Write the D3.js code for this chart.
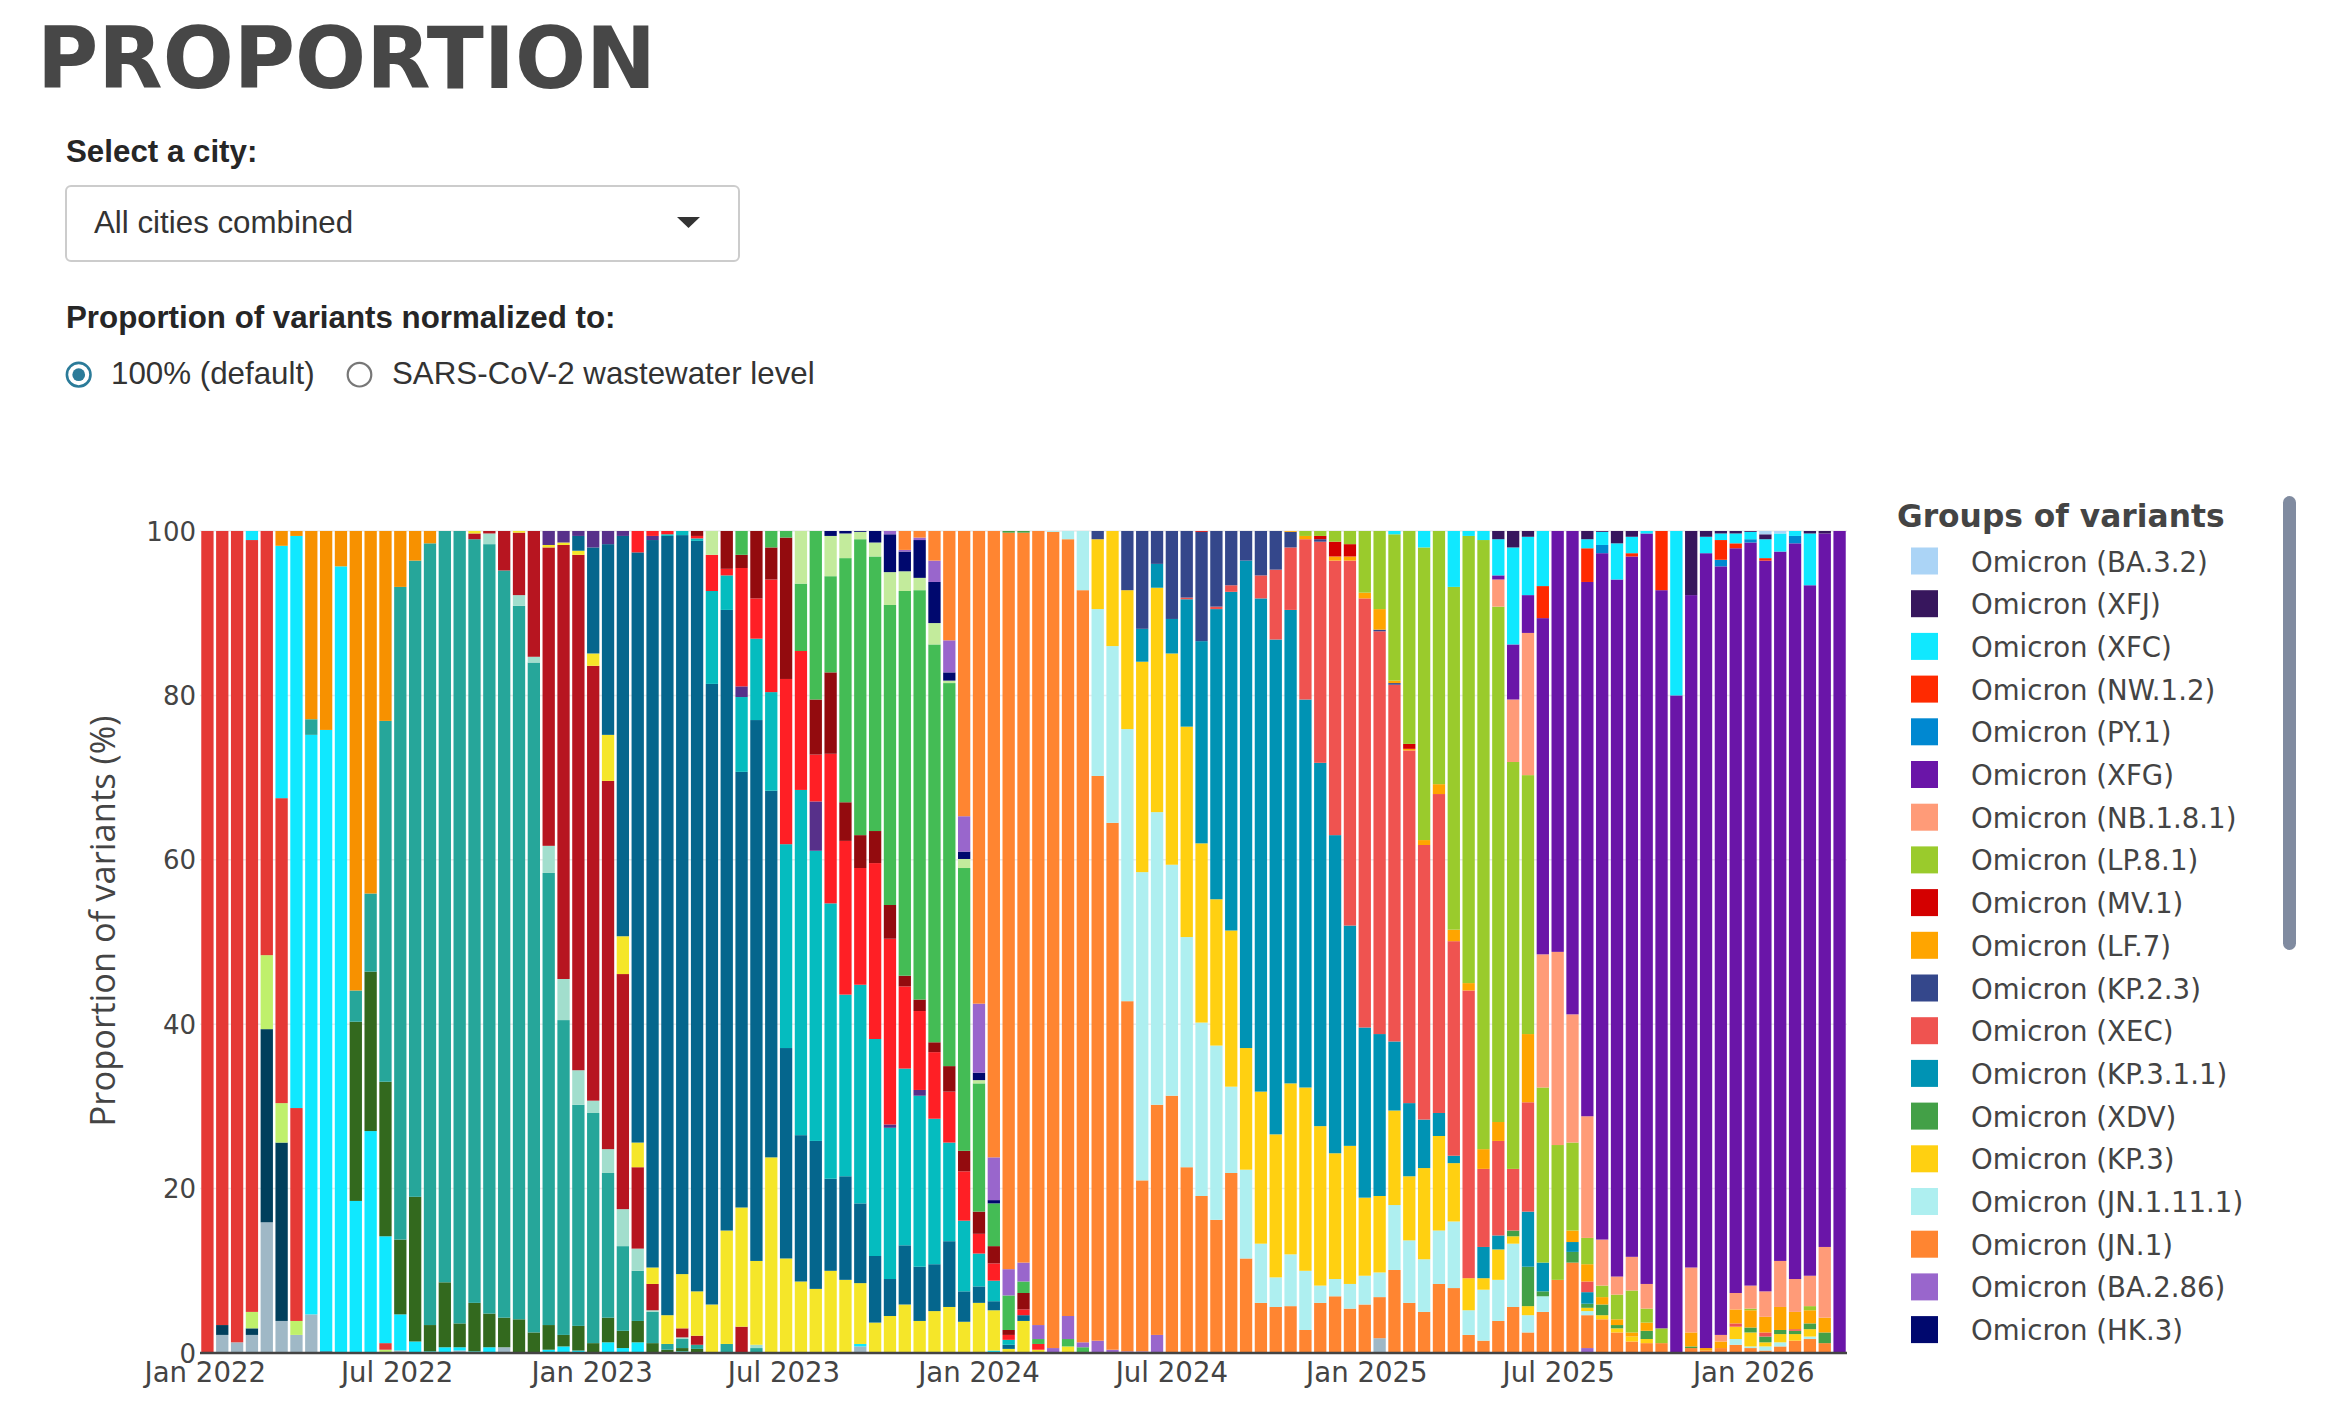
<!DOCTYPE html>
<html>
<head>
<meta charset="utf-8">
<script src="https://cdn.jsdelivr.net/npm/d3@7"></script>
<style>
  body { margin: 0; background: #fff; }
</style>
</head>
<body>
<script>
// variant groups, in stacking order (bottom of the bar first)
var variantKeys = ["oth","b11","ba3","ba1","ba2","ba4","ba5","b212","b275","bq1","xbb","x15","eg5","x19","x116","fl","hv1","x23",
  "hk3","b286","jn1","jn11","kp3","xdv","kp311","xec","kp23","lf7","mv1","lp81","nb181","xfg","py1","nw12","xfc","xfj","ba32"]

var variantLabels = ["Recombinant (other)","Omicron (BA.1.1)","Omicron (BA.3)","Omicron (BA.1)","Omicron (BA.2)","Omicron (BA.4)",
  "Omicron (BA.5)","Omicron (BA.2.12.1)","Omicron (BA.2.75)","Omicron (BQ.1)","Omicron (XBB)","Omicron (XBB.1.5)","Omicron (EG.5)",
  "Omicron (XBB.1.9)","Omicron (XBB.1.16)","Omicron (FL.1.5.1)","Omicron (HV.1)","Omicron (XBB.2.3)",
  "Omicron (HK.3)","Omicron (BA.2.86)","Omicron (JN.1)","Omicron (JN.1.11.1)","Omicron (KP.3)","Omicron (XDV)","Omicron (KP.3.1.1)",
  "Omicron (XEC)","Omicron (KP.2.3)","Omicron (LF.7)","Omicron (MV.1)","Omicron (LP.8.1)","Omicron (NB.1.8.1)","Omicron (XFG)",
  "Omicron (PY.1)","Omicron (NW.1.2)","Omicron (XFC)","Omicron (XFJ)","Omicron (BA.3.2)"]

var variantColors = ["#9fb8c6","#003f5c","#bff06b","#e53935","#10e8ff","#33691e","#26a69a","#f79100","#a2decd","#b71520","#f5e629","#05668d","#05bcbf",
  "#57308a","#ff1f25","#930b0e","#44bc55","#c3eb9c",
  "#00086e","#9966cc","#ff8531","#aeeff0","#ffd011","#43a047","#0093b4","#ef5350","#34478b","#ffa500","#d40000","#9acb2c","#ff9b78","#6a15a8",
  "#0088d1","#ff2a00","#10e8ff","#37165d","#abd4f6"]

// first sample date, one bar every 14 days
var firstSample = "2022-01-03"

// share of each group (%) in every two-week sample
var barShares = [
"ba1:100",
"oth:2.2 b11:1.2 ba1:96.6",
"oth:1.3 ba1:98.7",
"oth:2.2 b11:0.8 ba3:2.0 ba1:93.9 ba2:1.1",
"oth:15.9 b11:23.5 ba3:9.0 ba1:51.6",
"oth:3.9 b11:21.7 ba3:4.8 ba1:37.1 ba2:30.7 b212:1.8",
"oth:2.2 ba3:1.7 ba1:25.9 ba2:69.6 b212:0.6",
"oth:4.7 ba2:70.5 ba5:1.9 b212:22.9",
"b11:0.2 ba2:75.6 b212:24.2",
"ba2:95.7 b212:4.3",
"ba2:18.5 ba4:21.8 ba5:3.8 b212:55.9",
"ba2:27.0 ba4:19.4 ba5:9.5 b212:44.1",
"ba3:0.4 ba1:0.8 ba2:13.0 ba4:18.8 ba5:43.9 b212:23.1",
"oth:0.3 ba2:4.4 ba4:9.1 ba5:79.4 b212:6.8",
"ba2:1.4 ba4:17.6 ba5:77.4 b212:3.6",
"ba2:0.2 ba4:3.2 ba5:95.1 b212:1.5",
"ba2:0.7 ba4:7.9 ba5:91.4",
"oth:0.3 ba2:0.4 ba4:2.9 ba5:96.4",
"ba2:0.2 ba4:5.9 ba5:92.9 bq1:0.7 xbb:0.3",
"ba2:0.7 ba4:4.1 ba5:93.6 b275:1.3 bq1:0.3",
"oth:0.7 ba4:3.6 ba5:90.9 bq1:4.8",
"ba4:4.1 ba5:86.8 b275:1.3 bq1:7.6 xbb:0.2",
"ba4:2.5 ba5:81.5 b275:0.7 bq1:15.3",
"ba2:0.4 ba4:3.0 ba5:55.0 b275:3.3 bq1:36.3 xbb:0.3 x19:1.7",
"ba2:0.8 ba4:1.4 ba5:38.3 b275:5.0 bq1:52.8 xbb:0.3 x19:1.4",
"ba2:0.3 ba4:3.0 ba5:26.9 b275:4.2 bq1:62.7 xbb:0.5 x15:1.8 x19:0.6",
"ba4:1.2 ba5:28.0 b275:1.5 bq1:52.9 xbb:1.5 x15:12.9 x19:2.0",
"ba2:1.3 ba4:3.0 ba5:17.6 b275:2.9 bq1:44.8 xbb:5.6 x15:23.2 x19:1.6",
"ba2:0.6 ba4:2.1 ba5:10.3 b275:4.5 bq1:28.6 xbb:4.6 x15:48.7 x19:0.6",
"ba2:1.3 ba4:2.6 ba5:6.1 b275:2.7 bq1:9.9 xbb:3.0 x15:71.8 x116:2.6",
"ba4:1.2 ba5:3.8 b275:0.2 bq1:3.2 xbb:2.0 x15:88.5 x19:0.5 x116:0.6",
"ba4:0.4 ba5:0.7 xbb:3.5 x15:94.8 eg5:0.2 x116:0.4",
"ba2:0.2 ba4:0.4 ba5:1.1 b275:0.2 bq1:1.1 xbb:6.6 x15:89.9 eg5:0.5",
"ba4:0.5 ba5:0.5 bq1:1.1 xbb:5.4 x15:91.3 eg5:0.3 x116:0.3 fl:0.6",
"xbb:5.9 x15:75.5 eg5:11.3 x116:4.4 x23:2.9",
"ba5:1.1 xbb:13.8 x15:75.5 eg5:4.2 x116:0.8 fl:4.6",
"bq1:3.2 xbb:14.5 x15:53.0 eg5:9.1 x19:1.3 x116:14.4 fl:1.6 hv1:2.9",
"ba5:0.6 b275:0.4 xbb:10.2 x15:65.8 eg5:9.9 x116:4.9 fl:8.2",
"xbb:23.8 x15:44.6 eg5:12.0 x116:13.7 fl:3.9 hv1:2.0",
"xbb:11.5 x15:25.6 eg5:24.8 x116:20.1 fl:17.2 hv1:0.8",
"xbb:8.7 x15:17.8 eg5:42.0 x116:16.9 hv1:8.2 x23:6.4",
"xbb:7.8 x15:18.0 eg5:35.3 x19:6.0 x116:5.7 fl:6.7 hv1:20.5",
"xbb:10.0 x15:11.2 eg5:33.5 x116:18.2 fl:9.9 hv1:11.7 x23:4.9 hk3:0.6",
"xbb:8.9 x15:12.6 eg5:22.1 x116:18.7 fl:4.7 hv1:29.7 x23:3.0 hk3:0.3",
"oth:0.8 ba2:0.3 xbb:7.4 x15:9.7 eg5:26.6 x116:14.2 fl:4.0 hv1:36.0 x23:0.9 hk3:0.1",
"xbb:3.7 x15:8.1 eg5:26.4 x116:21.4 fl:3.9 hv1:33.4 x23:1.7 hk3:1.4",
"xbb:4.5 x15:4.5 eg5:18.4 x19:0.4 x116:22.6 fl:4.1 hv1:36.5 x23:4.0 hk3:4.6 b286:0.4",
"xbb:5.9 x15:7.2 eg5:21.5 x116:10.0 fl:1.3 hv1:46.8 x23:2.4 hk3:2.4 b286:0.2 jn1:2.3",
"xbb:3.9 x15:6.6 eg5:20.8 x19:0.7 x116:9.6 fl:1.4 hv1:49.8 x23:1.5 hk3:4.6 b286:0.3 jn1:0.8",
"xbb:5.1 x15:5.7 eg5:17.7 x116:8.1 fl:1.2 hv1:48.4 x23:2.6 hk3:5.0 b286:2.6 jn1:3.6",
"xbb:5.6 x15:8.0 eg5:12.0 x116:6.2 fl:3.1 hv1:46.6 x23:0.3 hk3:1.0 b286:3.9 jn1:13.3",
"xbb:3.8 x15:3.7 eg5:8.6 x116:6.0 fl:2.5 hv1:34.4 x23:1.1 hk3:0.9 b286:4.3 jn1:34.7",
"xbb:6.1 x15:2.0 eg5:4.0 x116:2.4 fl:2.7 hv1:15.6 x23:0.4 hk3:0.9 b286:8.4 jn1:57.5",
"ba2:0.3 xbb:4.9 x15:1.1 eg5:2.5 x116:2.1 fl:2.1 hv1:5.2 hk3:0.4 b286:5.2 jn1:76.2",
"xbb:0.5 x15:0.5 eg5:0.6 x116:0.6 fl:0.6 hv1:4.2 b286:3.2 jn1:89.6 xdv:0.2",
"xbb:3.9 x15:0.7 x116:0.7 fl:2.0 hv1:1.4 b286:2.3 jn1:88.8 xdv:0.2",
"xbb:0.4 x116:0.7 hv1:0.6 b286:1.7 jn1:96.6",
"b286:0.6 jn1:99.3 jn11:0.1",
"xbb:0.8 hv1:0.9 b286:2.8 jn1:94.5 jn11:1.0",
"hv1:0.7 b286:0.6 jn1:91.5 jn11:7.2",
"b286:1.5 jn1:68.7 jn11:20.3 kp3:8.5 kp23:1.0",
"b286:0.4 jn1:64.1 jn11:21.5 kp3:14.0",
"b286:0.2 jn1:42.6 jn11:33.1 kp3:16.9 kp23:7.2",
"b286:0.2 jn1:20.8 jn11:37.5 kp3:25.6 kp311:4.0 kp23:11.9",
"b286:2.2 jn1:28.0 jn11:35.6 kp3:27.3 kp311:2.9 kp23:4.0",
"jn1:31.3 jn11:28.1 kp3:25.7 kp311:4.2 kp23:10.7",
"jn1:22.6 jn11:28.0 kp3:25.6 kp311:15.5 xec:0.2 kp23:8.1",
"jn1:19.1 jn11:21.1 kp3:21.8 kp311:24.6 kp23:13.3 mv1:0.1",
"jn1:16.2 jn11:21.2 kp3:17.8 kp311:35.3 xec:0.3 kp23:9.2",
"jn1:21.9 jn11:10.5 kp3:19.0 kp311:41.2 xec:0.8 kp23:6.6",
"jn1:11.5 jn11:10.8 kp3:14.8 kp311:59.3 kp23:3.6",
"jn1:6.1 jn11:7.2 kp3:18.5 kp311:60.0 xec:2.8 kp23:5.4",
"jn1:5.6 jn11:3.6 kp3:17.4 kp311:60.2 xec:8.5 kp23:4.7",
"jn1:5.7 jn11:6.3 kp3:20.8 kp311:57.6 xec:7.6 kp23:1.9 lf7:0.1",
"jn1:2.8 jn11:7.2 kp3:22.3 kp311:47.2 xec:19.5 lf7:0.4 lp81:0.6",
"jn1:6.1 jn11:2.1 kp3:19.4 kp311:44.2 xec:26.9 kp23:0.3 mv1:0.4 lp81:0.6",
"jn1:6.9 jn11:2.1 kp3:15.3 kp311:38.7 xec:33.4 lf7:0.5 mv1:1.8 lp81:1.3",
"jn1:5.4 jn11:3.0 kp3:16.8 kp311:26.8 xec:44.4 lf7:0.5 mv1:1.5 lp81:1.6",
"jn1:5.9 jn11:3.5 kp3:9.5 kp311:20.7 xec:52.2 lf7:0.7 lp81:7.5",
"oth:1.8 jn1:5.0 jn11:3.0 kp3:9.3 kp311:19.7 xec:49.0 kp23:0.2 lf7:2.5 lp81:9.5",
"jn1:10.1 jn11:7.9 kp3:11.5 kp311:8.4 xec:43.4 kp23:0.2 lf7:0.3 lp81:17.8 xfc:0.4",
"jn1:6.1 jn11:7.6 kp3:7.8 kp311:8.9 xec:42.9 lf7:0.2 mv1:0.6 lp81:25.9",
"jn1:5.0 jn11:6.4 kp3:11.1 kp311:5.9 xec:33.4 lf7:0.6 lp81:35.6 xfc:2.0",
"jn1:8.4 jn11:6.5 kp3:11.5 kp311:2.8 xec:38.8 lf7:1.2 lp81:30.8",
"jn1:7.9 jn11:8.1 kp3:7.1 kp311:0.9 xec:26.1 lf7:1.4 lp81:41.7 xfc:6.8",
"jn1:2.2 jn11:3.0 kp3:3.9 xec:35.0 lf7:0.9 lp81:54.4 xfc:0.6",
"jn1:1.5 jn11:6.2 kp3:1.4 kp311:3.8 xec:9.5 lf7:2.4 lp81:74.1 xfc:1.1",
"jn1:3.9 jn11:5.0 kp3:3.7 kp311:1.7 xec:11.5 lf7:2.3 lp81:62.7 nb181:3.3 xfg:0.5 xfc:4.4 xfj:1.0",
"jn1:5.6 jn11:7.7 kp3:0.9 xdv:0.7 xec:7.5 lp81:49.5 nb181:7.6 xfg:6.7 xfc:11.8 xfj:2.0",
"jn1:2.5 jn11:2.1 kp3:1.1 xdv:4.8 kp311:6.7 xec:13.3 lf7:8.3 lp81:31.5 nb181:17.3 xfg:4.6 xfc:7.1 xfj:0.7",
"jn1:5.0 jn11:1.9 xdv:0.6 kp311:3.5 lp81:21.3 nb181:16.2 xfg:40.9 nw12:3.9 xfc:6.7",
"jn1:8.9 lp81:16.4 nb181:23.5 xfg:51.2",
"jn1:11.0 xdv:1.3 kp311:1.2 lf7:1.4 lp81:10.7 nb181:15.6 xfg:58.8",
"b286:0.6 jn1:4.0 jn11:0.5 kp3:0.4 xdv:0.5 kp311:1.4 xec:1.3 lf7:2.1 lp81:3.2 nb181:14.8 xfg:65.0 nw12:4.1 xfc:1.1 xfj:1.0",
"jn1:4.1 kp3:0.5 xdv:1.3 lf7:0.9 lp81:1.4 nb181:5.6 xfg:83.5 py1:1.0 xfc:1.6 xfj:0.1",
"jn1:2.5 kp3:0.5 xdv:0.4 lf7:0.7 lp81:3.0 nb181:2.2 xfg:84.8 xfc:4.4 xfj:1.5",
"jn1:1.4 kp3:0.6 lf7:0.5 lp81:5.1 nb181:4.1 xfg:85.2 nw12:0.4 xfc:2.0 xfj:0.7",
"jn1:1.2 kp3:0.5 xdv:1.0 lf7:1.0 lp81:1.7 nb181:3.0 xfg:91.3 xfc:0.3",
"jn1:1.2 lp81:1.8 xfg:89.8 nw12:7.2",
"xfg:80.0 xfc:20.0",
"jn1:0.6 xdv:0.2 lf7:1.7 nb181:7.9 xfg:81.8 xfj:7.8",
"jn1:0.3 lf7:0.3 xfg:96.7 xfc:2.0 xfj:0.7",
"jn1:0.6 lf7:0.8 nb181:0.8 xfg:93.5 py1:0.8 nw12:2.4 xfc:0.8 xfj:0.3",
"jn1:1.0 jn11:0.7 kp3:1.5 xec:0.4 lf7:1.7 nb181:2.0 xfg:90.6 nw12:0.6 xfc:1.2 xfj:0.3",
"jn1:0.6 jn11:0.2 kp3:1.7 xdv:0.6 lf7:2.1 lp81:0.2 nb181:2.8 xfg:90.4 py1:0.4 xfc:0.9 xfj:0.1",
"jn1:0.3 jn11:0.5 kp3:0.5 xdv:0.7 xec:0.5 lf7:1.9 nb181:3.1 xfg:88.9 nw12:0.3 xfc:2.3 xfj:0.6 ba32:0.4",
"jn1:0.8 jn11:0.5 kp3:1.0 xdv:0.5 lf7:2.8 nb181:5.6 xfg:86.3 xfc:2.2 ba32:0.3",
"jn1:1.5 kp3:0.8 xdv:0.4 xec:0.2 lf7:2.1 nb181:4.0 xfg:89.5 py1:0.9 xfc:0.6",
"jn1:1.7 jn11:0.3 kp3:0.9 xdv:0.7 lf7:1.6 lp81:0.5 nb181:3.7 xfg:84.0 xfc:6.3 xfj:0.3",
"jn1:1.2 xdv:1.3 lf7:1.8 nb181:8.6 xfg:86.8 xfj:0.3",
"xfg:100"
]

var yTicks = [0, 20, 40, 60, 80, 100]
var xTickDates = ["2022-01-01","2022-07-01","2023-01-01","2023-07-01","2024-01-01","2024-07-01","2025-01-01","2025-07-01","2026-01-01"]

var W = 2345, H = 1428
var svg = d3.select("body").append("svg")
  .attr("width", W)
  .attr("height", H)
  .style("display", "block")

// ---- page header and controls ----
svg.append("text")
  .attr("x", 37).attr("y", 88)
  .attr("textLength", 619).attr("lengthAdjust", "spacingAndGlyphs")
  .style("font-family", "'DejaVu Sans', sans-serif")
  .style("font-weight", "bold")
  .style("font-size", "86px")
  .style("fill", "#474747")
  .text("PROPORTION")

var ctrlFont = "'Liberation Sans', Arial, sans-serif"
var ctrlSize = "31.3px"

svg.append("text")
  .attr("x", 66).attr("y", 162)
  .style("font-family", ctrlFont).style("font-weight", "bold").style("font-size", ctrlSize)
  .style("fill", "#262626")
  .text("Select a city:")

svg.append("rect")
  .attr("x", 66).attr("y", 186).attr("width", 673).attr("height", 75)
  .attr("rx", 5)
  .style("fill", "#fff").style("stroke", "#cccccc").style("stroke-width", 2)

svg.append("text")
  .attr("x", 94).attr("y", 233)
  .style("font-family", ctrlFont).style("font-size", ctrlSize)
  .style("fill", "#333")
  .text("All cities combined")

svg.append("path")
  .attr("d", "M677,217 L700,217 L688.5,228 Z")
  .style("fill", "#333")

svg.append("text")
  .attr("x", 66).attr("y", 328)
  .style("font-family", ctrlFont).style("font-weight", "bold").style("font-size", ctrlSize)
  .style("fill", "#262626")
  .text("Proportion of variants normalized to:")

// radio buttons
svg.append("circle").attr("cx", 78.7).attr("cy", 374.7).attr("r", 11.8)
  .style("fill", "#fff").style("stroke", "#2b7b99").style("stroke-width", 2.6)
svg.append("circle").attr("cx", 78.7).attr("cy", 374.7).attr("r", 6.4)
  .style("fill", "#2b7b99")
svg.append("text")
  .attr("x", 111).attr("y", 384)
  .style("font-family", ctrlFont).style("font-size", ctrlSize).style("fill", "#333")
  .text("100% (default)")

svg.append("circle").attr("cx", 359.5).attr("cy", 374.7).attr("r", 11.8)
  .style("fill", "#fff").style("stroke", "#777").style("stroke-width", 2.2)
svg.append("text")
  .attr("x", 392).attr("y", 384)
  .style("font-family", ctrlFont).style("font-size", ctrlSize).style("fill", "#333")
  .text("SARS-CoV-2 wastewater level")

// ---- chart ----
var parseDay = d3.utcParse("%Y-%m-%d")
var start = parseDay(firstSample)

var rows = barShares.map(function(s, i) {
  var row = { date: d3.utcDay.offset(start, 14 * i) }
  variantKeys.forEach(function(k) { row[k] = 0 })
  s.split(" ").forEach(function(p) {
    var kv = p.split(":")
    row[kv[0]] = +kv[1]
  })
  return row
})

var x = d3.scaleUtc()
  .domain([d3.utcDay.offset(rows[0].date, -7), d3.utcDay.offset(rows[rows.length - 1].date, 7)])
  .range([200, 1847])

var y = d3.scaleLinear().domain([0, 100]).range([1353, 531])

var barW = 12.3

// gridlines
svg.append("g")
  .selectAll("line")
  .data(yTicks.filter(function(t) { return t > 0 }))
  .join("line")
  .attr("x1", 200).attr("x2", 1847)
  .attr("y1", function(d) { return y(d) }).attr("y2", function(d) { return y(d) })
  .style("stroke", "#ebebeb").style("stroke-width", 1.5)

var stacked = d3.stack().keys(variantKeys)(rows)
var colorOf = d3.scaleOrdinal().domain(variantKeys).range(variantColors)

svg.append("g")
  .selectAll("g")
  .data(stacked)
  .join("g")
  .style("fill", function(d) { return colorOf(d.key) })
  .selectAll("rect")
  .data(function(d) { return d.filter(function(v) { return v[1] - v[0] > 0 }) })
  .join("rect")
  .attr("x", function(d) { return x(d.data.date) - barW / 2 })
  .attr("width", barW)
  .attr("y", function(d) { return y(d[1]) })
  .attr("height", function(d) { return y(d[0]) - y(d[1]) })

// zero line
svg.append("line")
  .attr("x1", 200).attr("x2", 1847)
  .attr("y1", y(0)).attr("y2", y(0))
  .style("stroke", "#444").style("stroke-width", 2.5)

var axisFont = "'DejaVu Sans', Verdana, sans-serif"

// y tick labels
svg.append("g")
  .selectAll("text")
  .data(yTicks)
  .join("text")
  .attr("x", 196)
  .attr("y", function(d) { return y(d) + 9.5 })
  .attr("text-anchor", "end")
  .style("font-family", axisFont).style("font-size", "26px").style("fill", "#444")
  .text(function(d) { return d })

// x tick labels
var fmt = d3.utcFormat("%b %Y")
svg.append("g")
  .selectAll("text")
  .data(xTickDates.map(parseDay))
  .join("text")
  .attr("x", function(d) { return x(d) })
  .attr("y", 1382)
  .attr("text-anchor", "middle")
  .style("font-family", axisFont).style("font-size", "27.6px").style("fill", "#444")
  .text(function(d) { return fmt(d) })

// y axis title
svg.append("text")
  .attr("transform", "translate(115,921) rotate(-90)")
  .attr("text-anchor", "middle")
  .style("font-family", "'Open Sans', sans-serif").style("font-size", "34.5px").style("fill", "#444")
  .text("Proportion of variants (%)")

// ---- legend (scrollable in the original; only the first entries are in view) ----
var legendVisible = 19

svg.append("text")
  .attr("x", 1897).attr("y", 527)
  .style("font-family", axisFont).style("font-weight", "bold").style("font-size", "31.3px")
  .style("fill", "#444")
  .text("Groups of variants")

var legendItems = variantKeys.map(function(k, i) {
  return { key: k, label: variantLabels[i], color: variantColors[i] }
}).reverse().slice(0, legendVisible)

var leg = svg.append("g")
  .selectAll("g")
  .data(legendItems)
  .join("g")
  .attr("transform", function(d, i) { return "translate(0," + (561 + i * 42.7) + ")" })

leg.append("rect")
  .attr("x", 1911).attr("y", -13.5).attr("width", 27).attr("height", 27)
  .style("fill", function(d) { return d.color })

leg.append("text")
  .attr("x", 1971).attr("y", 10.5)
  .style("font-family", axisFont).style("font-size", "27.6px").style("fill", "#444")
  .text(function(d) { return d.label })

// scrollbar
svg.append("rect")
  .attr("x", 2283).attr("y", 496).attr("width", 13).attr("height", 454)
  .attr("rx", 6.5)
  .style("fill", "#808ba0")
</script>
</body>
</html>
